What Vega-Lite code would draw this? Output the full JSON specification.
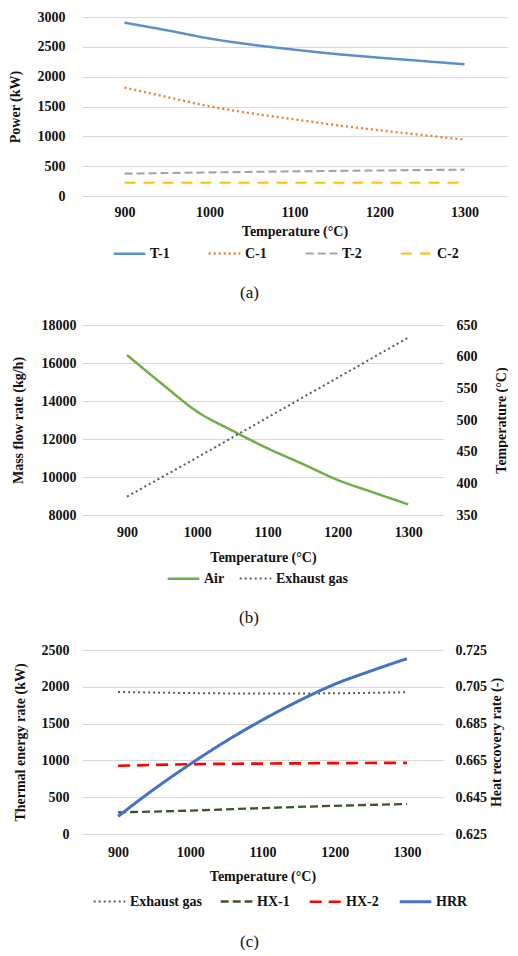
{
  "$schema": "https://vega.github.io/schema/vega-lite/v6.json",
  "padding": {"left": 8, "top": 10, "right": 0, "bottom": 0},
  "columns": 1,
  "spacing": 17,
  "resolve": {
    "scale": {"color": "independent", "strokeDash": "independent", "strokeWidth": "independent"},
    "legend": {"color": "independent", "strokeDash": "independent", "strokeWidth": "independent"}
  },
  "concat": [
    {
      "width": 425,
      "height": 179,
      "title": {"text": "(a)", "orient": "bottom", "frame": "group", "anchor": "middle", "dx": -45, "offset": 24},
      "data": {
        "values": [
          {"temp": 900, "series": "T-1", "value": 2905},
          {"temp": 950, "series": "T-1", "value": 2777},
          {"temp": 1000, "series": "T-1", "value": 2640},
          {"temp": 1050, "series": "T-1", "value": 2536},
          {"temp": 1100, "series": "T-1", "value": 2452},
          {"temp": 1150, "series": "T-1", "value": 2378},
          {"temp": 1200, "series": "T-1", "value": 2318},
          {"temp": 1250, "series": "T-1", "value": 2263},
          {"temp": 1300, "series": "T-1", "value": 2207},
          {"temp": 900, "series": "C-1", "value": 1816},
          {"temp": 950, "series": "C-1", "value": 1659},
          {"temp": 1000, "series": "C-1", "value": 1503},
          {"temp": 1050, "series": "C-1", "value": 1385},
          {"temp": 1100, "series": "C-1", "value": 1285},
          {"temp": 1150, "series": "C-1", "value": 1186},
          {"temp": 1200, "series": "C-1", "value": 1101},
          {"temp": 1250, "series": "C-1", "value": 1022},
          {"temp": 1300, "series": "C-1", "value": 944},
          {"temp": 900, "series": "T-2", "value": 374},
          {"temp": 1000, "series": "T-2", "value": 395},
          {"temp": 1100, "series": "T-2", "value": 413},
          {"temp": 1200, "series": "T-2", "value": 428},
          {"temp": 1300, "series": "T-2", "value": 441},
          {"temp": 900, "series": "C-2", "value": 223},
          {"temp": 1000, "series": "C-2", "value": 223},
          {"temp": 1100, "series": "C-2", "value": 223},
          {"temp": 1200, "series": "C-2", "value": 223},
          {"temp": 1300, "series": "C-2", "value": 223}
        ]
      },
      "mark": {"type": "line", "interpolate": "monotone"},
      "encoding": {
        "x": {
          "field": "temp", "type": "quantitative",
          "scale": {"domain": [850, 1350], "nice": false},
          "axis": {"title": "Temperature (°C)", "values": [900, 1000, 1100, 1200, 1300], "format": "d", "grid": false, "labelPadding": 9, "titlePadding": 5}
        },
        "y": {
          "field": "value", "type": "quantitative",
          "scale": {"domain": [0, 3000], "nice": false},
          "axis": {"title": "Power (kW)", "values": [0, 500, 1000, 1500, 2000, 2500, 3000], "format": "d", "labelPadding": 17, "titlePadding": 15}
        },
        "color": {
          "field": "series", "type": "nominal",
          "scale": {"domain": ["T-1", "C-1", "T-2", "C-2"], "range": ["#5b8fc9", "#ed7d31", "#a5a5a5", "#ffc000"]},
          "legend": {"orient": "none", "legendX": 30, "legendY": 219, "direction": "horizontal", "columns": 4, "columnPadding": 34}
        },
        "strokeDash": {
          "field": "series", "type": "nominal",
          "scale": {"domain": ["T-1", "C-1", "T-2", "C-2"], "range": [[1, 0], [2, 3], [8, 4], [11, 8]]}
        },
        "strokeWidth": {
          "field": "series", "type": "nominal",
          "scale": {"domain": ["T-1", "C-1", "T-2", "C-2"], "range": [2.5, 2, 2.5, 3]}
        }
      }
    },
    {
      "width": 362,
      "height": 190,
      "title": {"text": "(b)", "orient": "bottom", "frame": "group", "anchor": "middle", "dx": -14, "offset": 24},
      "data": {
        "values": [
          {"temp": 900, "series": "Air", "value": 16421},
          {"temp": 950, "series": "Air", "value": 14895},
          {"temp": 1000, "series": "Air", "value": 13439},
          {"temp": 1050, "series": "Air", "value": 12439},
          {"temp": 1100, "series": "Air", "value": 11509},
          {"temp": 1150, "series": "Air", "value": 10684},
          {"temp": 1200, "series": "Air", "value": 9842},
          {"temp": 1250, "series": "Air", "value": 9193},
          {"temp": 1300, "series": "Air", "value": 8561},
          {"temp": 900, "series": "Exhaust gas", "value": 379},
          {"temp": 1000, "series": "Exhaust gas", "value": 441},
          {"temp": 1100, "series": "Exhaust gas", "value": 504},
          {"temp": 1200, "series": "Exhaust gas", "value": 567},
          {"temp": 1300, "series": "Exhaust gas", "value": 630}
        ]
      },
      "encoding": {
        "x": {
          "field": "temp", "type": "quantitative",
          "scale": {"domain": [836, 1351], "nice": false},
          "axis": {"title": "Temperature (°C)", "values": [900, 1000, 1100, 1200, 1300], "format": "d", "grid": false, "labelPadding": 10, "titlePadding": 11}
        },
        "color": {
          "field": "series", "type": "nominal",
          "scale": {"domain": ["Air", "Exhaust gas"], "range": ["#70ad47", "#595959"]},
          "legend": {"orient": "none", "legendX": 84, "legendY": 236, "direction": "horizontal", "columns": 2, "columnPadding": 10}
        },
        "strokeDash": {
          "field": "series", "type": "nominal",
          "scale": {"domain": ["Air", "Exhaust gas"], "range": [[1, 0], [2, 3]]}
        },
        "strokeWidth": {
          "field": "series", "type": "nominal",
          "scale": {"domain": ["Air", "Exhaust gas"], "range": [2.5, 2]}
        }
      },
      "layer": [
        {
          "transform": [{"filter": "datum.series == 'Air'"}],
          "mark": {"type": "line", "interpolate": "monotone"},
          "encoding": {
            "y": {
              "field": "value", "type": "quantitative",
              "scale": {"domain": [8000, 18000], "nice": false},
              "axis": {"title": "Mass flow rate (kg/h)", "values": [8000, 10000, 12000, 14000, 16000, 18000], "format": "d", "labelPadding": 6, "titlePadding": 16}
            }
          }
        },
        {
          "transform": [{"filter": "datum.series == 'Exhaust gas'"}],
          "mark": {"type": "line", "interpolate": "monotone"},
          "encoding": {
            "y": {
              "field": "value", "type": "quantitative",
              "scale": {"domain": [350, 650], "nice": false},
              "axis": {"title": "Temperature (°C)", "orient": "right", "grid": false, "values": [350, 400, 450, 500, 550, 600, 650], "format": "d", "labelPadding": 12, "titlePadding": 17, "titleAngle": 270, "titleBaseline": "top"}
            }
          }
        }
      ],
      "resolve": {"scale": {"y": "independent"}}
    },
    {
      "width": 361,
      "height": 184,
      "title": {"text": "(c)", "orient": "bottom", "frame": "group", "anchor": "middle", "dx": -13, "offset": 25},
      "data": {
        "values": [
          {"temp": 900, "series": "Exhaust gas", "value": 1930},
          {"temp": 1000, "series": "Exhaust gas", "value": 1915},
          {"temp": 1100, "series": "Exhaust gas", "value": 1908},
          {"temp": 1200, "series": "Exhaust gas", "value": 1912},
          {"temp": 1300, "series": "Exhaust gas", "value": 1926},
          {"temp": 900, "series": "HX-1", "value": 294},
          {"temp": 1000, "series": "HX-1", "value": 318},
          {"temp": 1100, "series": "HX-1", "value": 352},
          {"temp": 1200, "series": "HX-1", "value": 383},
          {"temp": 1300, "series": "HX-1", "value": 407},
          {"temp": 900, "series": "HX-2", "value": 927},
          {"temp": 1000, "series": "HX-2", "value": 948},
          {"temp": 1100, "series": "HX-2", "value": 957},
          {"temp": 1200, "series": "HX-2", "value": 963},
          {"temp": 1300, "series": "HX-2", "value": 967},
          {"temp": 900, "series": "HRR", "value": 0.6346},
          {"temp": 950, "series": "HRR", "value": 0.6494},
          {"temp": 1000, "series": "HRR", "value": 0.663},
          {"temp": 1050, "series": "HRR", "value": 0.6756},
          {"temp": 1100, "series": "HRR", "value": 0.687},
          {"temp": 1150, "series": "HRR", "value": 0.6973},
          {"temp": 1200, "series": "HRR", "value": 0.7064},
          {"temp": 1250, "series": "HRR", "value": 0.7136},
          {"temp": 1300, "series": "HRR", "value": 0.7203}
        ]
      },
      "encoding": {
        "x": {
          "field": "temp", "type": "quantitative",
          "scale": {"domain": [850, 1350], "nice": false},
          "axis": {"title": "Temperature (°C)", "values": [900, 1000, 1100, 1200, 1300], "format": "d", "grid": false, "labelPadding": 11, "titlePadding": 10}
        },
        "color": {
          "field": "series", "type": "nominal",
          "scale": {"domain": ["Exhaust gas", "HX-1", "HX-2", "HRR"], "range": ["#595959", "#375623", "#ff0000", "#4472c4"]},
          "legend": {"orient": "none", "legendX": 10, "legendY": 234, "direction": "horizontal", "columns": 4, "columnPadding": 14}
        },
        "strokeDash": {
          "field": "series", "type": "nominal",
          "scale": {"domain": ["Exhaust gas", "HX-1", "HX-2", "HRR"], "range": [[2, 3], [8, 4], [12, 7], [1, 0]]}
        },
        "strokeWidth": {
          "field": "series", "type": "nominal",
          "scale": {"domain": ["Exhaust gas", "HX-1", "HX-2", "HRR"], "range": [2, 3, 3, 2.5]}
        }
      },
      "layer": [
        {
          "transform": [{"filter": "datum.series != 'HRR'"}],
          "mark": {"type": "line", "interpolate": "monotone"},
          "encoding": {
            "y": {
              "field": "value", "type": "quantitative",
              "scale": {"domain": [0, 2500], "nice": false},
              "axis": {"title": "Thermal energy rate (kW)", "values": [0, 500, 1000, 1500, 2000, 2500], "format": "d", "labelPadding": 13, "titlePadding": 14}
            }
          }
        },
        {
          "transform": [{"filter": "datum.series == 'HRR'"}],
          "mark": {"type": "line", "interpolate": "monotone"},
          "encoding": {
            "y": {
              "field": "value", "type": "quantitative",
              "scale": {"domain": [0.625, 0.725], "nice": false},
              "axis": {"title": "Heat recovery rate (-)", "orient": "right", "grid": false, "values": [0.625, 0.645, 0.665, 0.685, 0.705, 0.725], "format": ".3f", "labelPadding": 12, "titlePadding": 3, "titleAngle": 270, "titleBaseline": "top"}
            }
          }
        }
      ],
      "resolve": {"scale": {"y": "independent"}}
    }
  ],
  "config": {
    "font": "Liberation Serif",
    "view": {"stroke": null},
    "axis": {
      "domain": false,
      "ticks": false,
      "grid": true,
      "gridColor": "#d9d9d9",
      "gridWidth": 1,
      "labelFont": "Liberation Serif",
      "labelFontSize": 14,
      "labelFontWeight": "bold",
      "labelColor": "#111111",
      "titleFont": "Liberation Serif",
      "titleFontSize": 14,
      "titleFontWeight": "bold",
      "titleColor": "#111111"
    },
    "legend": {
      "title": null,
      "symbolType": "stroke",
      "symbolSize": 1000,
      "labelFont": "Liberation Serif",
      "labelFontSize": 14,
      "labelFontWeight": "bold",
      "labelColor": "#111111",
      "labelOffset": 3
    },
    "title": {
      "font": "Liberation Serif",
      "fontSize": 17,
      "fontWeight": "normal",
      "color": "#111111"
    }
  }
}
